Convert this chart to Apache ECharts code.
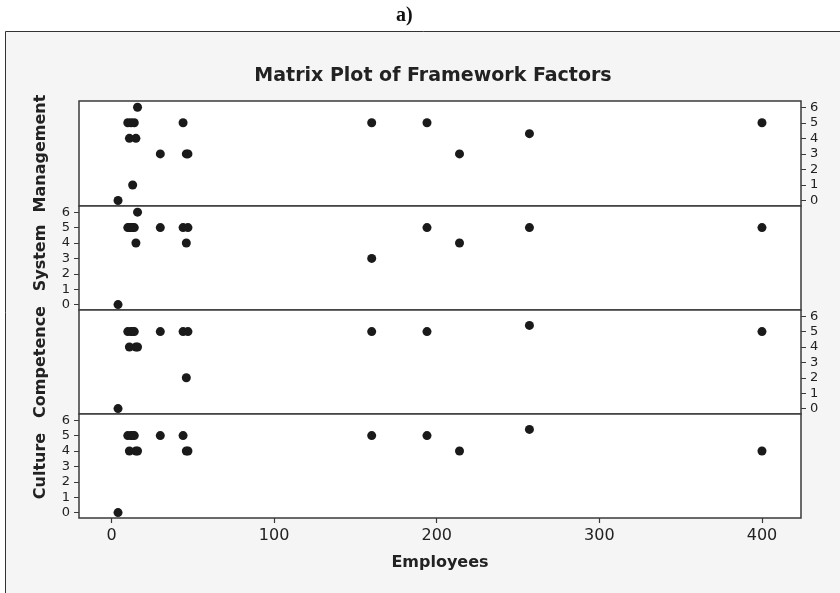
<!DOCTYPE html>
<html>
<head>
<meta charset="utf-8">
<script src="https://cdn.jsdelivr.net/npm/echarts@6/dist/echarts.min.js"></script>
<style>
html, body { margin: 0; padding: 0; background: #fff; }
#chart { width: 840px; height: 593px; }
</style>
</head>
<body>
<div id="chart"></div>
<script>
// observations (one per company)
const employees  = [4, 10, 11, 12, 13, 14, 15, 16, 30, 44, 46, 47, 160, 194, 214, 257, 400];
const management = [0, 5, 4, 5, 1, 5, 4, 6, 3, 5, 3, 3, 5, 5, 3, 4.3, 5];
const system     = [0, 5, 5, 5, 5, 5, 4, 6, 5, 5, 4, 5, 3, 5, 4, 5, 5];
const competence = [0, 5, 4, 5, 5, 5, 4, 4, 5, 5, 2, 5, 5, 5, null, 5.4, 5];
const culture    = [0, 5, 4, 5, 5, 5, 4, 4, 5, 5, 4, 4, 5, 5, 4, 5.4, 4];

const varNames = ['Management', 'System', 'Competence', 'Culture'];
const varValues = [management, system, competence, culture];
const xTicks = [0, 100, 200, 300, 400];
const yTicks = [0, 1, 2, 3, 4, 5, 6];

var chart = echarts.init(document.getElementById('chart'));

const gridTops = [101, 206, 310, 414];
const gridHeights = [105, 104, 104, 104];
const lineCol = '#3a3a3a';
const textCol = '#222';

var grids = [], xAxes = [], yAxes = [], series = [];

varNames.forEach(function (name, i) {
    grids.push({
        left: 79,
        width: 722,
        top: gridTops[i],
        height: gridHeights[i],
        show: true,
        backgroundColor: '#fff',
        borderColor: lineCol,
        borderWidth: 1.5
    });
    const isLast = i === varNames.length - 1;
    xAxes.push({
        type: 'value',
        gridIndex: i,
        min: -20,
        max: 424,
        splitLine: { show: false },
        axisLine: { show: false, onZero: false },
        axisTick: {
            show: isLast,
            length: 5,
            customValues: xTicks,
            lineStyle: { color: lineCol, width: 1.2 }
        },
        axisLabel: {
            show: isLast,
            customValues: xTicks,
            color: textCol,
            fontSize: 16,
            fontFamily: 'DejaVu Sans',
            margin: 10
        },
        name: isLast ? 'Employees' : '',
        nameLocation: 'middle',
        nameGap: 37,
        nameTextStyle: { fontSize: 16, fontWeight: 'bold', color: textCol, fontFamily: 'DejaVu Sans' }
    });
    const labelsLeft = i % 2 === 1;
    // left axis: carries the variable name (and labels on even panels)
    yAxes.push({
        type: 'value',
        gridIndex: i,
        position: 'left',
        min: -0.35,
        max: 6.4,
        splitLine: { show: false },
        axisLine: { show: false, onZero: false },
        axisTick: {
            show: labelsLeft,
            length: 5,
            customValues: yTicks,
            lineStyle: { color: lineCol, width: 1 }
        },
        axisLabel: {
            show: labelsLeft,
            customValues: yTicks,
            color: textCol,
            fontSize: 13,
            fontFamily: 'DejaVu Sans',
            margin: 9
        },
        name: name,
        nameLocation: 'middle',
        nameRotate: 90,
        nameGap: 30,
        nameTextStyle: { fontSize: 16, fontWeight: 'bold', color: textCol, fontFamily: 'DejaVu Sans' }
    });
    // right axis with labels on odd panels
    yAxes.push({
        type: 'value',
        gridIndex: i,
        position: 'right',
        min: -0.35,
        max: 6.4,
        splitLine: { show: false },
        axisLine: { show: false, onZero: false },
        axisTick: {
            show: !labelsLeft,
            length: 5,
            customValues: yTicks,
            lineStyle: { color: lineCol, width: 1 }
        },
        axisLabel: {
            show: !labelsLeft,
            customValues: yTicks,
            color: textCol,
            fontSize: 13,
            fontFamily: 'DejaVu Sans',
            margin: 9
        }
    });
    const pts = [];
    employees.forEach(function (e, k) {
        if (varValues[i][k] != null) pts.push([e, varValues[i][k]]);
    });
    series.push({
        type: 'scatter',
        name: name,
        xAxisIndex: i,
        yAxisIndex: i * 2,
        symbol: 'circle',
        symbolSize: 9,
        itemStyle: { color: '#1a1a1a', opacity: 1 },
        data: pts
    });
});

var option = {
    animation: false,
    backgroundColor: '#fff',
    title: {
        text: 'Matrix Plot of Framework Factors',
        left: 428,
        top: 62,
        textAlign: 'center',
        textStyle: { fontSize: 19, fontWeight: 'bold', color: textCol, fontFamily: 'DejaVu Sans' }
    },
    graphic: [{
        type: 'rect',
        z: -100,
        silent: true,
        shape: { x: 5.5, y: 31.5, width: 840, height: 600 },
        style: { fill: '#f5f5f5', stroke: '#333', lineWidth: 1 }
    }, {
        type: 'text',
        left: 396,
        top: 6,
        style: { text: 'a)', font: 'bold 20px "Liberation Serif"', fill: '#111' }
    }],
    grid: grids,
    xAxis: xAxes,
    yAxis: yAxes,
    series: series
};

chart.setOption(option);
</script>
</body>
</html>
